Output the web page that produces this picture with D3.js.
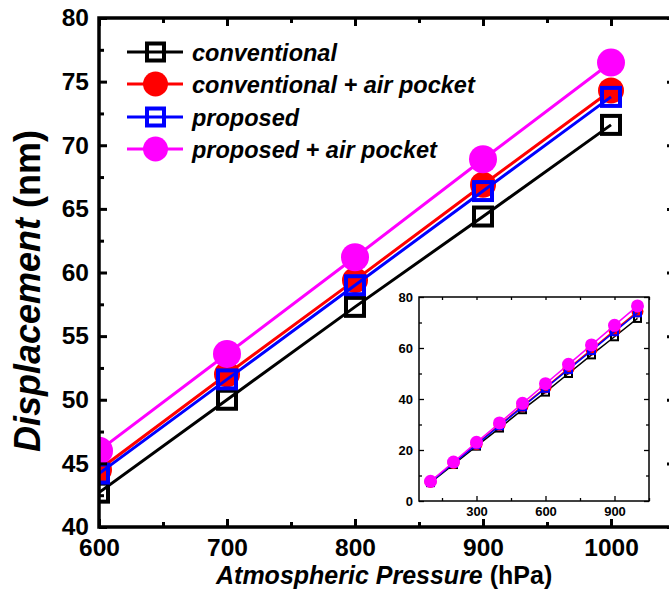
<!DOCTYPE html>
<html>
<head>
<meta charset="utf-8">
<script src="https://cdn.jsdelivr.net/npm/d3@7"></script>
<style>
  html, body { margin: 0; padding: 0; background: #fff; }
  svg { display: block; font-family: "Liberation Sans", Arial, sans-serif; }
</style>
</head>
<body>
<svg id="chart" width="669" height="595"></svg>
<script>
// Atmospheric pressure (hPa) and simulated membrane displacement (nm)
const pressures = [100, 200, 300, 400, 500, 600, 700, 800, 900, 1000];
const conventional        = [7.2, 14.3, 21.5, 28.6, 35.8, 42.7, 50.0, 57.3, 64.4, 71.6];
const conventionalAir     = [7.5, 14.9, 22.3, 29.8, 37.2, 44.5, 52.0, 59.4, 66.9, 74.3];
const proposed            = [7.4, 14.8, 22.1, 29.5, 36.9, 44.2, 51.6, 59.0, 66.4, 73.8];
const proposedAir         = [7.7, 15.3, 23.0, 30.6, 38.3, 46.0, 53.6, 61.2, 68.9, 76.5];

const seriesNames  = ["conventional", "conventional + air pocket", "proposed", "proposed + air pocket"];
const seriesValues = [conventional, conventionalAir, proposed, proposedAir];

// Main axis ticks
const mainXTicks = [600, 700, 800, 900, 1000];
const mainXMinor = [650, 750, 850, 950, 1050];
const mainYTicks = [40, 45, 50, 55, 60, 65, 70, 75, 80];
const mainYMinor = [42.5, 47.5, 52.5, 57.5, 62.5, 67.5, 72.5, 77.5];
// Inset axis ticks
const insetXTicks = [300, 600, 900];
const insetXMinor = [150, 450, 750, 1050];
const insetYTicks = [0, 20, 40, 60, 80];
const insetYMinor = [10, 30, 50, 70];

const styles = [
  { color: "#000000", shape: "square" },
  { color: "#ff0000", shape: "circle" },
  { color: "#0000ff", shape: "square" },
  { color: "#ff00ff", shape: "circle" }
];

const series = seriesNames.map((name, i) => ({
  name,
  style: styles[i],
  points: pressures.map((p, j) => ({ x: p, y: seriesValues[i][j] }))
}));

const svg = d3.select("#chart");

function drawMarker(g, shape, color, cx, cy, size) {
  if (shape === "square") {
    g.append("rect")
      .attr("x", cx - size.sq / 2).attr("y", cy - size.sq / 2)
      .attr("width", size.sq).attr("height", size.sq)
      .attr("fill", "none").attr("stroke", color).attr("stroke-width", size.sqStroke);
  } else {
    g.append("circle")
      .attr("cx", cx).attr("cy", cy).attr("r", size.r)
      .attr("fill", color);
  }
}

function styleAxis(g, fontSize, strokeW) {
  g.select(".domain").remove();
  g.selectAll(".tick line").attr("stroke", "#000").attr("stroke-width", strokeW);
  g.selectAll(".tick text")
    .attr("fill", "#000")
    .style("font-size", fontSize + "px")
    .style("font-weight", "bold")
    .style("font-family", "'Liberation Sans', Arial, sans-serif");
}

// ---------- main plot ----------
const M = { left: 99, right: 675, top: 18, bottom: 527 };
const x = d3.scaleLinear().domain([600, 1050]).range([M.left, M.right]);
const y = d3.scaleLinear().domain([40, 80]).range([M.bottom, M.top]);

svg.append("defs").append("clipPath").attr("id", "mainClip")
  .append("rect").attr("x", M.left).attr("y", M.top)
  .attr("width", M.right - M.left).attr("height", M.bottom - M.top);

const plot = svg.append("g").attr("clip-path", "url(#mainClip)");
const line = d3.line().x(d => x(d.x)).y(d => y(d.y));
const mainSize = [
  { sq: 18, sqStroke: 4 },
  { r: 13 },
  { sq: 18, sqStroke: 4 },
  { r: 14 }
];

series.forEach((s, i) => {
  const pts = s.points.filter(d => d.x >= 600);
  const g = plot.append("g");
  g.append("path").datum(pts).attr("d", line)
    .attr("fill", "none").attr("stroke", s.style.color).attr("stroke-width", 3);
  pts.forEach(d => drawMarker(g, s.style.shape, s.style.color, x(d.x), y(d.y), mainSize[i]));
});

// bottom axis (labelled) + minor
const gxb = svg.append("g").attr("transform", `translate(0,${M.bottom})`)
  .call(d3.axisBottom(x).tickValues(mainXTicks).tickSize(-8).tickPadding(12).tickFormat(d3.format("d")));
styleAxis(gxb, 24.5, 3);
const gxbm = svg.append("g").attr("transform", `translate(0,${M.bottom})`)
  .call(d3.axisBottom(x).tickValues(mainXMinor).tickSize(-5).tickFormat(""));
styleAxis(gxbm, 24.5, 3);
// top axis ticks
const gxt = svg.append("g").attr("transform", `translate(0,${M.top})`)
  .call(d3.axisTop(x).tickValues(mainXTicks).tickSize(-8).tickFormat(""));
styleAxis(gxt, 24.5, 3);
const gxtm = svg.append("g").attr("transform", `translate(0,${M.top})`)
  .call(d3.axisTop(x).tickValues(mainXMinor).tickSize(-5).tickFormat(""));
styleAxis(gxtm, 24.5, 3);
// left axis (labelled) + minor
const gyl = svg.append("g").attr("transform", `translate(${M.left},0)`)
  .call(d3.axisLeft(y).tickValues(mainYTicks).tickSize(-8).tickPadding(10).tickFormat(d3.format("d")));
styleAxis(gyl, 24.5, 3);
const gylm = svg.append("g").attr("transform", `translate(${M.left},0)`)
  .call(d3.axisLeft(y).tickValues(mainYMinor).tickSize(-5).tickFormat(""));
styleAxis(gylm, 24.5, 3);
// right axis ticks
const gyr = svg.append("g").attr("transform", `translate(${M.right},0)`)
  .call(d3.axisRight(y).tickValues(mainYTicks).tickSize(-8).tickFormat(""));
styleAxis(gyr, 24.5, 3);
const gyrm = svg.append("g").attr("transform", `translate(${M.right},0)`)
  .call(d3.axisRight(y).tickValues(mainYMinor).tickSize(-5).tickFormat(""));
styleAxis(gyrm, 24.5, 3);

// frame
svg.append("rect")
  .attr("x", M.left).attr("y", M.top)
  .attr("width", M.right - M.left).attr("height", M.bottom - M.top)
  .attr("fill", "none").attr("stroke", "#000").attr("stroke-width", 3.5);

// axis titles
const xTitle = svg.append("text")
  .attr("x", 216).attr("y", 584)
  .style("font-size", "25px").style("font-weight", "bold");
xTitle.append("tspan").style("font-style", "italic").text("Atmospheric Pressure");
xTitle.append("tspan").text(" (hPa)");

const yTitle = svg.append("text")
  .attr("transform", "translate(40,291) rotate(-90)")
  .attr("text-anchor", "middle")
  .style("font-size", "36px").style("font-weight", "bold");
yTitle.append("tspan").style("font-style", "italic").text("Displacement");
yTitle.append("tspan").text(" (nm)");

// legend
const legend = svg.append("g");
const legendRows = [52, 84, 117, 149];
series.forEach((s, i) => {
  const ly = legendRows[i];
  const g = legend.append("g");
  g.append("line").attr("x1", 127).attr("x2", 183).attr("y1", ly).attr("y2", ly)
    .attr("stroke", s.style.color).attr("stroke-width", 3);
  drawMarker(g, s.style.shape, s.style.color, 155.5, ly,
    s.style.shape === "square" ? { sq: 17, sqStroke: 4 } : { r: 12.5 });
  g.append("text").attr("x", 192).attr("y", ly + 8.5)
    .style("font-size", "23.5px").style("font-weight", "bold").style("font-style", "italic")
    .text(s.name);
});

// ---------- inset ----------
const I = { left: 419, right: 649, top: 297, bottom: 501 };
const xi = d3.scaleLinear().domain([50, 1050]).range([I.left, I.right]);
const yi = d3.scaleLinear().domain([0, 80]).range([I.bottom, I.top]);

svg.append("rect")
  .attr("x", I.left).attr("y", I.top)
  .attr("width", I.right - I.left).attr("height", I.bottom - I.top)
  .attr("fill", "#fff");

const lineI = d3.line().x(d => xi(d.x)).y(d => yi(d.y));
const insetSize = [
  { sq: 7, sqStroke: 2 },
  { r: 6 },
  { sq: 7, sqStroke: 2 },
  { r: 6.5 }
];
series.forEach((s, i) => {
  const g = svg.append("g");
  g.append("path").datum(s.points).attr("d", lineI)
    .attr("fill", "none").attr("stroke", s.style.color).attr("stroke-width", 1.5);
  s.points.forEach(d => drawMarker(g, s.style.shape, s.style.color, xi(d.x), yi(d.y), insetSize[i]));
});

const ixb = svg.append("g").attr("transform", `translate(0,${I.bottom})`)
  .call(d3.axisBottom(xi).tickValues(insetXTicks).tickSize(-5).tickPadding(6).tickFormat(d3.format("d")));
styleAxis(ixb, 13, 1.3);
const ixbm = svg.append("g").attr("transform", `translate(0,${I.bottom})`)
  .call(d3.axisBottom(xi).tickValues(insetXMinor).tickSize(-3).tickFormat(""));
styleAxis(ixbm, 13, 1.3);
const ixt = svg.append("g").attr("transform", `translate(0,${I.top})`)
  .call(d3.axisTop(xi).tickValues(insetXTicks.concat(insetXMinor)).tickSize(-3).tickFormat(""));
styleAxis(ixt, 13, 1.3);
const iyl = svg.append("g").attr("transform", `translate(${I.left},0)`)
  .call(d3.axisLeft(yi).tickValues(insetYTicks).tickSize(-5).tickPadding(6).tickFormat(d3.format("d")));
styleAxis(iyl, 13, 1.3);
const iylm = svg.append("g").attr("transform", `translate(${I.left},0)`)
  .call(d3.axisLeft(yi).tickValues(insetYMinor).tickSize(-3).tickFormat(""));
styleAxis(iylm, 13, 1.3);
const iyr = svg.append("g").attr("transform", `translate(${I.right},0)`)
  .call(d3.axisRight(yi).tickValues(insetYTicks).tickSize(-5).tickFormat(""));
styleAxis(iyr, 13, 1.3);
const iyrm = svg.append("g").attr("transform", `translate(${I.right},0)`)
  .call(d3.axisRight(yi).tickValues(insetYMinor).tickSize(-3).tickFormat(""));
styleAxis(iyrm, 13, 1.3);

svg.append("rect")
  .attr("x", I.left).attr("y", I.top)
  .attr("width", I.right - I.left).attr("height", I.bottom - I.top)
  .attr("fill", "none").attr("stroke", "#000").attr("stroke-width", 1.5);
</script>
</body>
</html>
